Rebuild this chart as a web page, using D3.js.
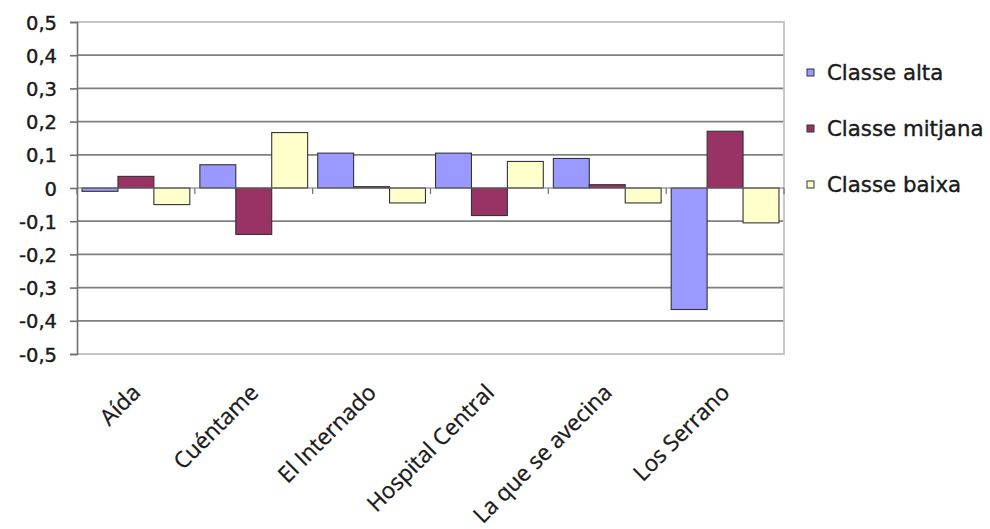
<!DOCTYPE html>
<html><head><meta charset="utf-8">
<script src="https://cdn.jsdelivr.net/npm/d3@7"></script>
<style>html,body{margin:0;padding:0;background:#fff;}svg{display:block;}</style>
</head><body>
<svg id="chart" width="990" height="529"></svg>
<script>
const categories = ["Aída","Cuéntame","El Internado","Hospital Central","La que se avecina","Los Serrano"];
const seriesNames = ["Classe alta","Classe mitjana","Classe baixa"];
const classeAlta    = [-0.01, 0.07, 0.105, 0.105, 0.089, -0.366];
const classeMitjana = [0.035, -0.14, 0.004, -0.083, 0.01, 0.171];
const classeBaixa   = [-0.05, 0.167, -0.045, 0.08, -0.045, -0.105];
const yTicks = [0.5,0.4,0.3,0.2,0.1,0,-0.1,-0.2,-0.3,-0.4,-0.5];
const colors = ["#9999FF","#993366","#FFFFCC"];

const seriesValues = [classeAlta, classeMitjana, classeBaixa];
const svg = d3.select("#chart");
const L = 77, R = 784, T = 22, B = 354;

const x = d3.scaleBand().domain(categories).range([L, R]).paddingInner(0).paddingOuter(0);
const xs = d3.scaleBand().domain(seriesNames).range([0, x.bandwidth()]).paddingInner(0).paddingOuter(0.14);
const y = d3.scaleLinear().domain([-0.5, 0.5]).range([B, T]);

// gridlines
svg.append("g").selectAll("line").data(yTicks.filter(t => t !== 0.5 && t !== -0.5 && t !== 0))
  .join("line")
  .attr("x1", L).attr("x2", R)
  .attr("y1", d => y(d)).attr("y2", d => y(d))
  .attr("stroke", "#808080").attr("stroke-width", 1.7);

// plot border (top, right, bottom)
svg.append("path")
  .attr("d", `M${L},${T}H${R}V${B}H${L}`)
  .attr("fill", "none").attr("stroke", "#c4c4c4").attr("stroke-width", 1.8);

// bars
const groups = svg.append("g").selectAll("g").data(categories).join("g")
  .attr("transform", d => `translate(${x(d)},0)`);
groups.selectAll("rect")
  .data((c, i) => seriesNames.map((s, j) => ({s, v: seriesValues[j][i], j})))
  .join("rect")
  .attr("x", d => xs(d.s))
  .attr("width", xs.bandwidth())
  .attr("y", d => y(Math.max(0, d.v)))
  .attr("height", d => Math.max(1, Math.abs(y(d.v) - y(0))))
  .attr("fill", d => colors[d.j])
  .attr("stroke", "#333").attr("stroke-width", 1.1);

// zero axis line with category tick marks
svg.append("line").attr("x1", L).attr("x2", R).attr("y1", y(0)).attr("y2", y(0))
  .attr("stroke", "#707070").attr("stroke-width", 1.2);
svg.append("g").selectAll("line").data(d3.range(categories.length + 1))
  .join("line")
  .attr("x1", i => L + i * x.step()).attr("x2", i => L + i * x.step())
  .attr("y1", y(0)).attr("y2", y(0) + 6)
  .attr("stroke", "#707070").attr("stroke-width", 1.2);

// y axis
const yAxis = d3.axisLeft(y).tickValues(yTicks).tickSize(7).tickPadding(13)
  .tickFormat(d => d === 0 ? "0" : d3.format(".1f")(d).replace(".", ",").replace("−", "-"));
const ya = svg.append("g").attr("transform", `translate(${L},0)`).call(yAxis);
ya.select(".domain").attr("stroke", "#707070").attr("stroke-width", 1.6);
ya.selectAll(".tick line").attr("stroke", "#707070").attr("stroke-width", 1.6);
ya.selectAll(".tick text")
  .attr("font-family", "'DejaVu Sans', Verdana, sans-serif")
  .attr("font-size", 19.5).attr("fill", "#1a1a1a")
  .attr("stroke", "#1a1a1a").attr("stroke-width", 0.4)
  .attr("dy", "0.36em");

// x labels
svg.append("g").selectAll("text").data(categories).join("text")
  .attr("transform", d => `translate(${x(d) + x.bandwidth()/2 + 6},${394}) rotate(-45)`)
  .attr("text-anchor", "end")
  .attr("font-family", "'Open Sans', sans-serif")
  .attr("font-size", 22.5).attr("fill", "#1a1a1a")
  .attr("stroke", "#1a1a1a").attr("stroke-width", 0.3)
  .text(d => d);

// legend
const lg = svg.append("g").selectAll("g").data(seriesNames).join("g")
  .attr("transform", (d, i) => `translate(807,${72.5 + i * 56})`);
lg.append("rect").attr("x", 0).attr("y", -3.5).attr("width", 7).attr("height", 7)
  .attr("fill", (d, i) => colors[i]).attr("stroke", "#333").attr("stroke-width", 1);
lg.append("text").attr("x", 20).attr("y", 0).attr("dy", "0.36em")
  .attr("font-family", "'DejaVu Sans', Verdana, sans-serif")
  .attr("font-size", 21.3).attr("fill", "#1a1a1a")
  .attr("stroke", "#1a1a1a").attr("stroke-width", 0.4)
  .text(d => d);
</script>
</body></html>
